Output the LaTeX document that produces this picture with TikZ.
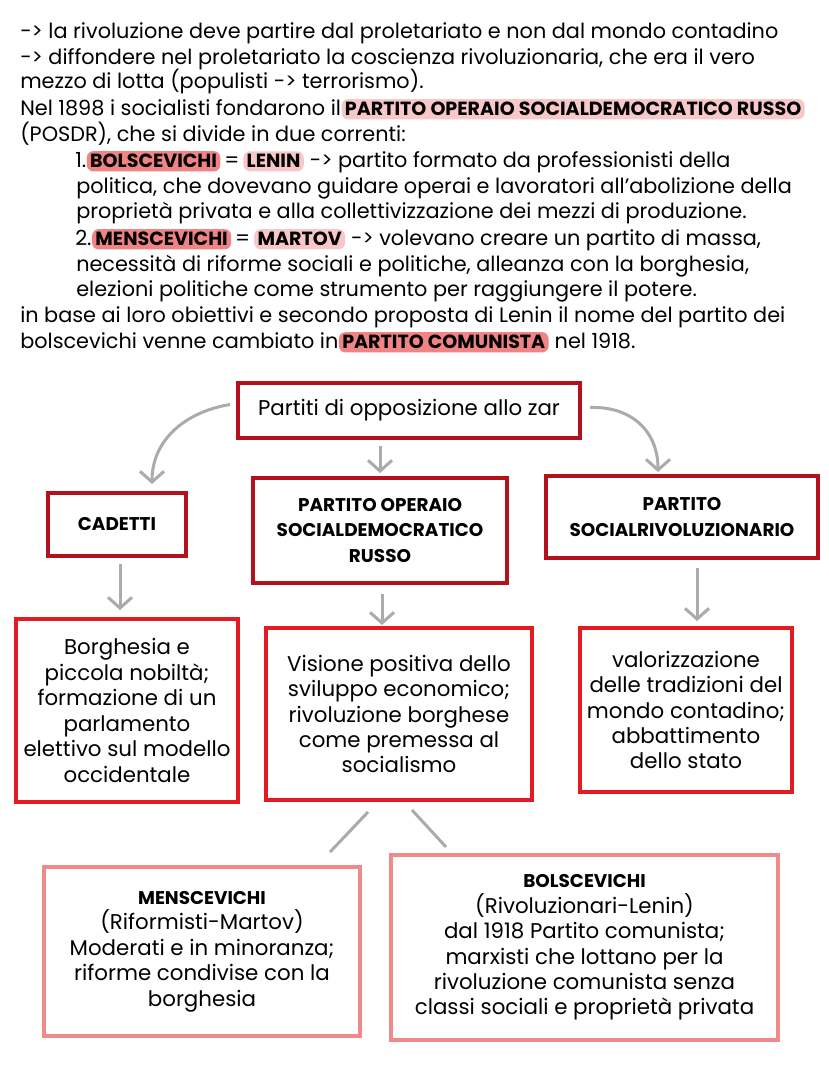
\documentclass[tikz,border=0pt]{standalone}
\usepackage{fontspec}
\setmainfont{Poppins}
\usetikzlibrary{arrows.meta,calc}
\definecolor{hlL}{HTML}{F8C8C8}
\definecolor{hlD}{HTML}{F08484}
\definecolor{rdark}{HTML}{B3121C}
\definecolor{rmid}{HTML}{E41B23}
\definecolor{rlight}{HTML}{F08A8A}
\definecolor{gry}{HTML}{ABABAB}
\begin{document}
\begin{tikzpicture}[x=0.75pt,y=-0.75pt,
  txt/.style={anchor=base west, inner sep=0pt, font=\fontsize{15.6}{19}\selectfont},
  hl/.style={anchor=base west, inner xsep=2.5pt, inner ysep=2.5pt, rounded corners=5pt, font=\fontsize{14.3}{19}\selectfont\bfseries},
  bx/.style 2 args={minimum width=#1*0.75pt, minimum height=#2*0.75pt},
  box/.style={draw, line width=3pt, fill=white, align=center, inner sep=0pt, font=\fontsize{16}{19.1}\selectfont},
  capbox/.style={box, font=\fontsize{13.8}{19.1}\selectfont\bfseries},
  arr/.style={draw=gry, line width=2.25pt, -{Straight Barb[length=8pt,width=18pt]}},
  ln/.style={draw=gry, line width=2.25pt}]
\useasboundingbox (0,0) rectangle (828,1069);
\fill[white] (0,0) rectangle (828,1069);

% --- text block ---
\node[txt] (l1) at (20,39) {-> la rivoluzione deve partire dal proletariato e non dal mondo contadino};
\node[txt] (l2) at (20,65) {-> diffondere nel proletariato la coscienza rivoluzionaria, che era il vero};
\node[txt] (l3) at (20,89) {mezzo di lotta (populisti -> terrorismo).};
\node[txt] (l4a) at (20,116) {Nel 1898 i socialisti fondarono il\ };
\node[hl, fill=hlL] (l4b) at (l4a.base east) {PARTITO OPERAIO SOCIALDEMOCRATICO RUSSO};
\node[txt] (l5) at (20,142) {(POSDR), che si divide in due correnti:};
\node[txt] (l6a) at (75,168) {1.};
\node[hl, fill=hlD] (l6b) at (l6a.base east) {BOLSCEVICHI};
\node[txt] (l6c) at (l6b.base east) {\,=\,};
\node[hl, fill=hlL] (l6d) at (l6c.base east) {LENIN};
\node[txt] (l6e) at (l6d.base east) {\ -> partito formato da professionisti della};
\node[txt] (l7) at (76,194) {politica, che dovevano guidare operai e lavoratori all'abolizione della};
\node[txt] (l8) at (76,219) {proprietà privata e alla collettivizzazione dei mezzi di produzione.};
\node[txt] (l9a) at (75,246) {2.};
\node[hl, fill=hlD] (l9b) at (l9a.base east) {MENSCEVICHI};
\node[txt] (l9c) at (l9b.base east) {\,=\,};
\node[hl, fill=hlL] (l9d) at (l9c.base east) {MARTOV};
\node[txt] (l9e) at (l9d.base east) {\ -> volevano creare un partito di massa,};
\node[txt] (l10) at (76,272) {necessità di riforme sociali e politiche, alleanza con la borghesia,};
\node[txt] (l11) at (76,297) {elezioni politiche come strumento per raggiungere il potere.};
\node[txt] (l12) at (20,323) {in base ai loro obiettivi e secondo proposta di Lenin il nome del partito dei};
\node[txt] (l13a) at (20,349) {bolscevichi venne cambiato in};
\node[hl, fill=hlD] (l13b) at (l13a.base east) {PARTITO COMUNISTA};
\node[txt] (l13c) at (l13b.base east) {\ nel 1918.};

% --- diagram boxes ---
\node[box, draw=rdark, bx={342}{55}] (top) at (409,410.5) {Partiti di opposizione allo zar};
\node[capbox, draw=rdark, bx={138}{63}] (cad) at (117,524.5) {CADETTI};
\node[capbox, draw=rdark, bx={254}{105}] (posdr) at (380,530.5) {PARTITO OPERAIO\\SOCIALDEMOCRATICO\\RUSSO};
\node[capbox, draw=rdark, bx={272}{82}] (psr) at (682,517) {PARTITO\\SOCIALRIVOLUZIONARIO};

\node[box, draw=rmid, bx={222}{183}] (borg) at (127,710.5) {Borghesia e\\piccola nobiltà;\\formazione di un\\parlamento\\elettivo sul modello\\occidentale};
\node[box, draw=rmid, bx={266}{172}] (vis) at (399,714) {Visione positiva dello\\sviluppo economico;\\rivoluzione borghese\\come premessa al\\socialismo};
\node[box, draw=rmid, bx={212}{164}] (val) at (686,710) {valorizzazione\\delle tradizioni del\\mondo contadino;\\abbattimento\\dello stato};

\node[box, draw=rlight, bx={316}{169}] (men) at (202,951.5) {\fontsize{13.8}{19.1}\selectfont\bfseries MENSCEVICHI\\(Riformisti-Martov)\\Moderati e in minoranza;\\riforme condivise con la\\borghesia};
\node[box, draw=rlight, bx={387}{185}] (bol) at (584.5,947.5) {\fontsize{13.8}{19.1}\selectfont\bfseries BOLSCEVICHI\\(Rivoluzionari-Lenin)\\dal 1918 Partito comunista;\\marxisti che lottano per la\\rivoluzione comunista senza\\classi sociali e proprietà privata};

% --- connectors ---
\coordinate (c1) at (152,484);
\coordinate (c2) at (658,472);
\draw[arr] ($(top.west)+(-6,-6)$) .. controls (185,412) and (152,440) .. (c1);
\draw[arr] ($(top.east)+(8,-3)$) .. controls (630,406) and (658,430) .. (c2);
\draw[arr] ($(top.south -| posdr.north)+(0,6)$) -- ($(posdr.north)+(0,-3)$);
\draw[arr] ($(cad.south)+(3,6)$) -- ($(borg.north -| cad.south)+(3,-7)$);
\draw[arr] ($(posdr.south)+(2,9)$) -- ($(vis.north -| posdr.south)+(2,-1)$);
\coordinate (p1) at (697,568);
\coordinate (p2) at (697,621);
\draw[arr] (p1) -- (p2);
\coordinate (v1) at (368,812);
\coordinate (v2) at (330,852);
\coordinate (v3) at (412,810);
\coordinate (v4) at (446,847);
\draw[ln] (v1) -- (v2);
\draw[ln] (v3) -- (v4);
\end{tikzpicture}
\end{document}
